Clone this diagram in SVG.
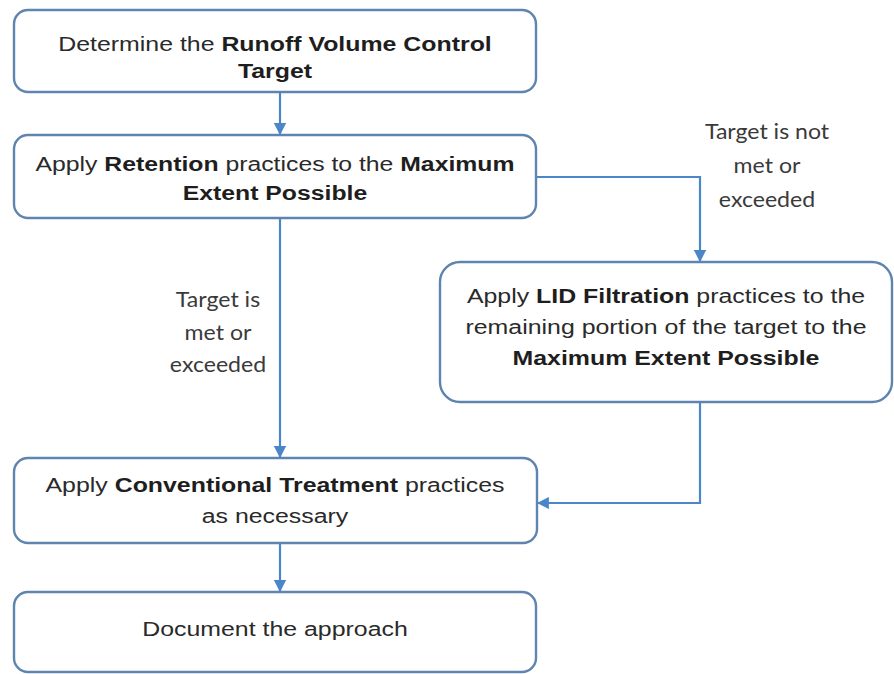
<svg xmlns="http://www.w3.org/2000/svg" width="894" height="674" viewBox="0 0 894 674">
<defs>
<style>
.box{fill:#ffffff;stroke:#5f84b0;stroke-width:2.4}
.t{font-family:"Liberation Sans",Arial,sans-serif;font-size:21px;fill:#2a2a2a;text-anchor:middle}
.b{font-weight:bold;fill:#1e1e1e}
.lbl{font-family:Lato,"Noto Sans",sans-serif;font-size:21px;fill:#3a3a3a;text-anchor:middle}
.c{fill:none;stroke:#4a86c8;stroke-width:2.2}
</style>
<marker id="ah" viewBox="0 0 10 10" refX="9" refY="5" markerWidth="5.5" markerHeight="5.5" orient="auto" markerUnits="strokeWidth">
<path d="M0,0 L10,5 L0,10 z" fill="#4a86c8"/>
</marker>
</defs>
<rect width="894" height="674" fill="#ffffff"/>
<g id="connectors">
<path class="c" d="M280,92 V134" marker-end="url(#ah)"/>
<path class="c" d="M280,218 V457" marker-end="url(#ah)"/>
<path class="c" d="M536,177 H700 V261" marker-end="url(#ah)"/>
<path class="c" d="M700,402 V503 H538" marker-end="url(#ah)"/>
<path class="c" d="M280,543 V591" marker-end="url(#ah)"/>
</g>
<g id="n1">
<rect class="box" x="14" y="10" width="522" height="82" rx="14"/>
<g transform="translate(275,0) scale(1.185,1)">
<text class="t" x="0" y="51">Determine the <tspan class="b">Runoff Volume Control</tspan></text>
<text class="t b" x="0" y="78">Target</text>
</g>
</g>
<g id="n2">
<rect class="box" x="14" y="135" width="522" height="83" rx="14"/>
<g transform="translate(275,0) scale(1.18,1)">
<text class="t" x="0" y="171">Apply <tspan class="b">Retention</tspan> practices to the <tspan class="b">Maximum</tspan></text>
<text class="t b" x="0" y="200">Extent Possible</text>
</g>
</g>
<g id="n3">
<rect class="box" x="440" y="262" width="452" height="140" rx="20"/>
<g transform="translate(666,0) scale(1.185,1)">
<text class="t" x="0" y="303">Apply <tspan class="b">LID Filtration</tspan> practices to the</text>
<text class="t" x="0" y="334">remaining portion of the target to the</text>
<text class="t b" x="0" y="365">Maximum Extent Possible</text>
</g>
</g>
<g id="n4">
<rect class="box" x="14" y="458" width="523" height="85" rx="14"/>
<g transform="translate(275,0) scale(1.185,1)">
<text class="t" x="0" y="492">Apply <tspan class="b">Conventional Treatment</tspan> practices</text>
<text class="t" x="0" y="523">as necessary</text>
</g>
</g>
<g id="n5">
<rect class="box" x="14" y="592" width="522" height="80" rx="14"/>
<g transform="translate(275,0) scale(1.185,1)">
<text class="t" x="0" y="636">Document the approach</text>
</g>
</g>
<g id="labels">
<g transform="translate(218,0) scale(1.1,1)">
<text class="lbl" x="0" y="307">Target is</text>
<text class="lbl" x="0" y="340">met or</text>
<text class="lbl" x="0" y="372">exceeded</text>
</g>
<g transform="translate(767,0) scale(1.1,1)">
<text class="lbl" x="0" y="139">Target is not</text>
<text class="lbl" x="0" y="173">met or</text>
<text class="lbl" x="0" y="207">exceeded</text>
</g>
</g>
</svg>
